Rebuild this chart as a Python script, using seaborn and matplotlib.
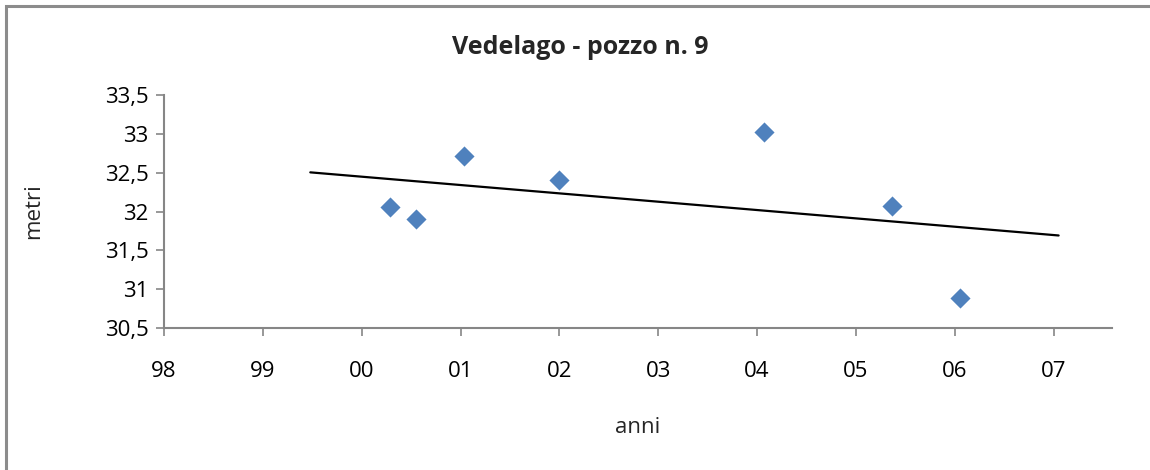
import numpy as np
import pandas as pd
import matplotlib
matplotlib.use("Agg")
import matplotlib.pyplot as plt
from matplotlib.patches import Rectangle
import seaborn as sns

# ---- data ----
anni = [2000.29, 2000.55, 2001.03, 2002.00, 2004.07, 2005.36, 2006.05]
metri = [32.06, 31.90, 32.72, 32.40, 33.03, 32.07, 30.88]
trend_range = [1999.48, 2007.05]
x_ticks = [1998, 1999, 2000, 2001, 2002, 2003, 2004, 2005, 2006, 2007]
x_labels = ["98", "99", "00", "01", "02", "03", "04", "05", "06", "07"]
y_ticks = [30.5, 31.0, 31.5, 32.0, 32.5, 33.0, 33.5]
y_labels = ["30,5", "31", "31,5", "32", "32,5", "33", "33,5"]
title = "Vedelago - pozzo n. 9"

sns.set_style("white")
plt.rcParams['font.family'] = ['Open Sans', 'DejaVu Sans']

df = pd.DataFrame({"anni": anni, "metri": metri})
coef = np.polyfit(df["anni"], df["metri"], 1)
tx = np.array(trend_range)
trend = pd.DataFrame({"anni": tx, "metri": np.polyval(coef, tx)})

fig = plt.figure(figsize=(11.5, 4.7), dpi=100)
ax = fig.add_axes([164/1150, 1 - 328/470, (1112 - 164)/1150, (328 - 95)/470])

sns.lineplot(data=trend, x="anni", y="metri", color="black", linewidth=1.6, ax=ax)
sns.scatterplot(data=df, x="anni", y="metri", marker="D", s=105, color="#4F81BD",
                linewidth=0, ax=ax, zorder=3)

ax.set_xlim(1998, 1998 + 9.59)
ax.set_ylim(30.5, 33.5)
ax.set_xticks(x_ticks)
ax.set_xticklabels(x_labels)
ax.set_yticks(y_ticks)
ax.set_yticklabels(y_labels)

axis_col = "#868686"
for s in ["top", "right"]:
    ax.spines[s].set_visible(False)
for s in ["left", "bottom"]:
    ax.spines[s].set_color(axis_col)
    ax.spines[s].set_linewidth(1.5)
ax.tick_params(axis="x", direction="out", length=6, width=1.2, color=axis_col,
               labelsize=16, pad=18, labelcolor="black", bottom=True)
ax.tick_params(axis="y", direction="out", length=6, width=1.2, color=axis_col,
               labelsize=16, pad=5, labelcolor="black", left=True)

ax.set_xlabel("anni", fontsize=16, labelpad=25)
ax.set_ylabel("metri", fontsize=16, labelpad=44)
ax.grid(False)

fig.text(580/1150, 1 - 47/470, title, ha="center", va="center",
         fontsize=18, fontweight="bold")

fig.add_artist(Rectangle((6/1150, -0.2), 1.2, 1.2 - 6/470,
                         transform=fig.transFigure, fill=False,
                         edgecolor="#8C8C8C", linewidth=2.2))

fig.savefig("out.png", dpi=100)
